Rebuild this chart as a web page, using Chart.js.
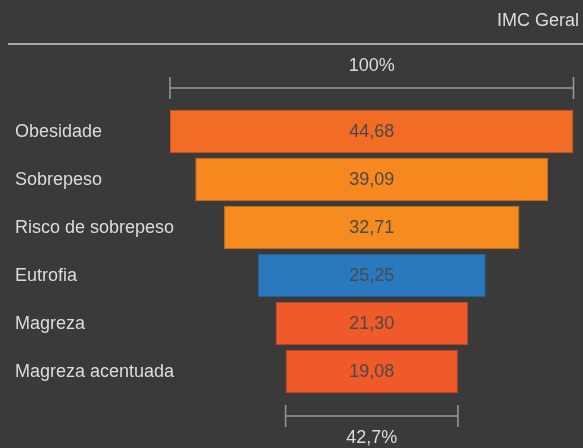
<!DOCTYPE html>
<html>
<head>
<meta charset="utf-8">
<script src="https://cdn.jsdelivr.net/npm/chart.js@4/dist/chart.umd.min.js"></script>
<style>
html,body{margin:0;padding:0;background:#3a3a3a;}
#wrap{width:583px;height:448px;position:relative;}
</style>
</head>
<body>
<div id="wrap"><canvas id="c" width="583" height="448"></canvas></div>
<script>
const title = "IMC Geral";
const categories = ["Obesidade", "Sobrepeso", "Risco de sobrepeso", "Eutrofia", "Magreza", "Magreza acentuada"];
const values = [44.68, 39.09, 32.71, 25.25, 21.30, 19.08];
const colors = ["#f26c26", "#f7871f", "#f68c1f", "#2a78be", "#f0592a", "#f0592a"];
const borderColors = ["#c9561d", "#cc6e18", "#cc7218", "#22619a", "#c44822", "#c44822"];

const FONT = "'Liberation Sans', Arial, sans-serif";
const fmt = v => v.toFixed(2).replace('.', ',');
const half = Math.max(...values) / 2;

const overlay = {
  id: 'overlay',
  afterDatasetsDraw(chart) {
    const ctx = chart.ctx;
    const x = chart.scales.x;
    const y = chart.scales.y;
    const meta = chart.getDatasetMeta(0);
    ctx.save();
    ctx.font = "18px " + FONT;
    ctx.textBaseline = "middle";
    // title
    ctx.fillStyle = "#dcdcdc";
    ctx.textAlign = "right";
    ctx.fillText(title, 579, 21);
    // header line
    ctx.strokeStyle = "#cfcfcf";
    ctx.lineWidth = 1.5;
    ctx.beginPath(); ctx.moveTo(8, 44); ctx.lineTo(583, 44); ctx.stroke();

    // category labels
    ctx.textAlign = "left";
    ctx.fillStyle = "#dcdcdc";
    categories.forEach((c, i) => {
      ctx.fillText(c, 15, y.getPixelForTick(i) + 1);
    });

    // value labels
    ctx.textAlign = "center";
    ctx.fillStyle = "#4a4a4a";
    meta.data.forEach((bar, i) => {
      ctx.fillText(fmt(values[i]), x.getPixelForValue(0), bar.y + 1);
    });

    // measure brackets
    function bracket(v, yy, label, ly) {
      const l = x.getPixelForValue(-v / 2), r = x.getPixelForValue(v / 2);
      ctx.strokeStyle = "#9a9a9a";
      ctx.lineWidth = 1.5;
      ctx.beginPath();
      ctx.moveTo(l, yy); ctx.lineTo(r, yy);
      ctx.moveTo(l, yy - 11); ctx.lineTo(l, yy + 11);
      ctx.moveTo(r, yy - 11); ctx.lineTo(r, yy + 11);
      ctx.stroke();
      ctx.fillStyle = "#dcdcdc";
      ctx.fillText(label, (l + r) / 2, ly);
    }
    const first = values[0], last = values[values.length - 1];
    bracket(first, 88, "100%", 66);
    bracket(last, 416, (last / first * 100).toFixed(1).replace('.', ',') + "%", 438);
    ctx.restore();
  }
};

new Chart(document.getElementById('c'), {
  type: 'bar',
  data: {
    labels: categories,
    datasets: [{
      data: values.map(v => [-v / 2, v / 2]),
      backgroundColor: colors,
      borderColor: borderColors,
      borderWidth: 1,
      borderSkipped: false,
      barPercentage: 0.905,
      categoryPercentage: 1
    }]
  },
  options: {
    indexAxis: 'y',
    responsive: false,
    animation: false,
    layout: { padding: { left: 170, right: 9.5, top: 107.5, bottom: 52.5 } },
    plugins: { legend: { display: false }, tooltip: { enabled: false } },
    scales: {
      x: { display: false, min: -half, max: half },
      y: { display: false }
    }
  },
  plugins: [overlay]
});
</script>
</body>
</html>
